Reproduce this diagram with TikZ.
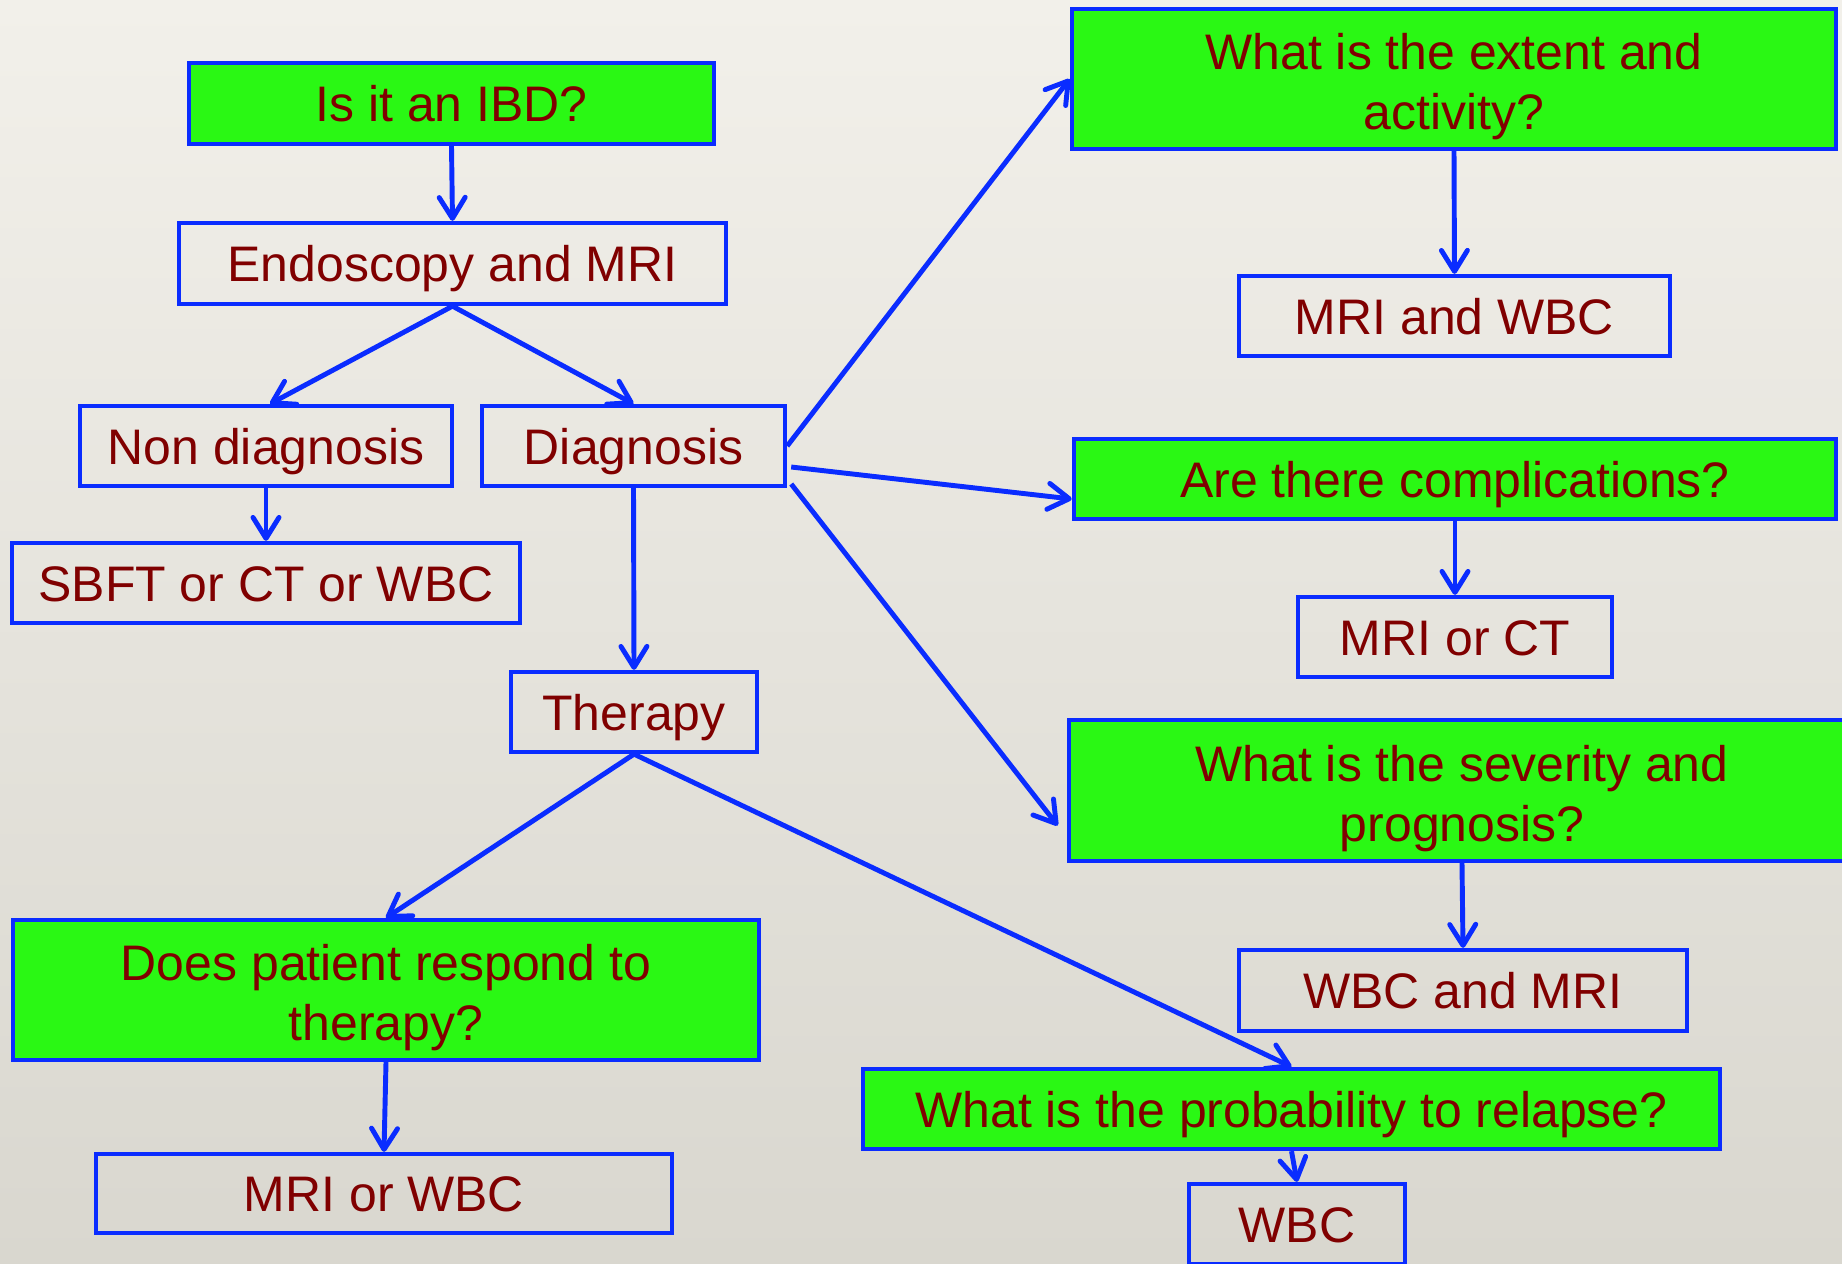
\documentclass[tikz,border=0pt]{standalone}
\usepackage{fontspec}
\setmainfont{Liberation Sans}
\usetikzlibrary{arrows.meta,calc}
\definecolor{bgtop}{RGB}{242,240,234}
\definecolor{bgbot}{RGB}{217,215,207}
\definecolor{boxgreen}{RGB}{42,248,20}
\definecolor{edgeblue}{RGB}{10,44,255}
\definecolor{txtred}{RGB}{128,0,0}
\newcommand\twolines[2]{\raisebox{-2.5pt}[\height][\depth]{\begin{tabular}{@{}c@{}}#1\\#2\end{tabular}}}
\begin{document}
\begin{tikzpicture}[x=0.01cm,y=-0.01cm,
  basebox/.style={draw=edgeblue,line width=1.2pt,text=txtred,
    font=\fontsize{14.2}{17.1}\selectfont,inner sep=0pt},
  wbox/.style={basebox,text height=13pt,text depth=2.6pt},
  gbox/.style={wbox,fill=boxgreen},
  gbox2/.style={basebox,fill=boxgreen},
  conn/.style={draw=edgeblue,line width=1.4pt,
    -{Straight Barb[length=0.21cm,width=0.26cm,round]}}]
\clip (0,0) rectangle (1842,1263);
\shade[top color=bgtop,bottom color=bgbot] (0,0) rectangle (1842,1263);

% left column
\node[gbox,minimum width=5.25cm,minimum height=0.81cm] (ibd) at (451.5,103.5) {Is it an IBD?};
\node[wbox,minimum width=5.47cm,minimum height=0.81cm] (endo) at (452.5,263.5) {Endoscopy and MRI};
\node[wbox,minimum width=3.72cm,minimum height=0.80cm] (nond) at (266,446) {Non diagnosis};
\node[wbox,minimum width=3.03cm,minimum height=0.80cm] (diag) at (633.5,446) {Diagnosis};
\node[wbox,minimum width=5.08cm,minimum height=0.80cm] (sbft) at (266,583) {SBFT or CT or WBC};
\node[wbox,minimum width=2.46cm,minimum height=0.80cm] (ther) at (634,712) {Therapy};
\node[gbox2,minimum width=7.46cm,minimum height=1.40cm] (resp) at (386,990) {\twolines{Does patient respond to}{therapy?}};
\node[wbox,minimum width=5.76cm,minimum height=0.79cm] (mriwbc) at (384,1193.5) {MRI or WBC};

% right column
\node[gbox2,minimum width=7.64cm,minimum height=1.40cm] (ext) at (1454,79) {\twolines{What is the extent and}{activity?}};
\node[wbox,minimum width=4.31cm,minimum height=0.80cm] (mriandwbc) at (1454.5,316) {MRI and WBC};
\node[gbox,minimum width=7.62cm,minimum height=0.80cm] (comp) at (1455,479) {Are there complications?};
\node[wbox,minimum width=3.14cm,minimum height=0.80cm] (mrict) at (1455,637) {MRI or CT};
\node[gbox2,minimum width=7.86cm,minimum height=1.41cm] (sev) at (1462,790.5) {\twolines{What is the severity and}{prognosis?}};
\node[wbox,minimum width=4.48cm,minimum height=0.81cm] (wbcmri) at (1463,990.5) {WBC and MRI};
\node[gbox,minimum width=8.57cm,minimum height=0.80cm] (rel) at (1291.5,1109) {What is the probability to relapse?};
\node[wbox,minimum width=2.16cm,minimum height=0.80cm] (wbc) at (1297,1224) {WBC};

% connectors
\draw[conn] (ibd.south) -- (endo.north);
\draw[conn] (endo.south) -- ($(nond.north)+(4,0)$);
\draw[conn] (endo.south) -- (diag.north);
\draw[conn] (nond.south) -- (sbft.north);
\draw[conn] (diag.south) -- (ther.north);
\draw[conn] (diag.east) -- (ext.west);
\draw[conn] ($(diag.east)+(4,21)$) -- ($(comp.west)+(0,20)$);
\draw[conn] ($(diag.east)+(4,38)$) -- ($(sev.west)+(-9,35)$);
\draw[conn] (ext.south) -- (mriandwbc.north);
\draw[conn] (comp.south) -- (mrict.north);
\draw[conn] (sev.south) -- (wbcmri.north);
\draw[conn] (ther.south) -- (resp.north);
\draw[conn] (ther.south) -- (rel.north);
\draw[conn] (resp.south) -- (mriwbc.north);
\draw[conn] (rel.south) -- (wbc.north);
\end{tikzpicture}
\end{document}
